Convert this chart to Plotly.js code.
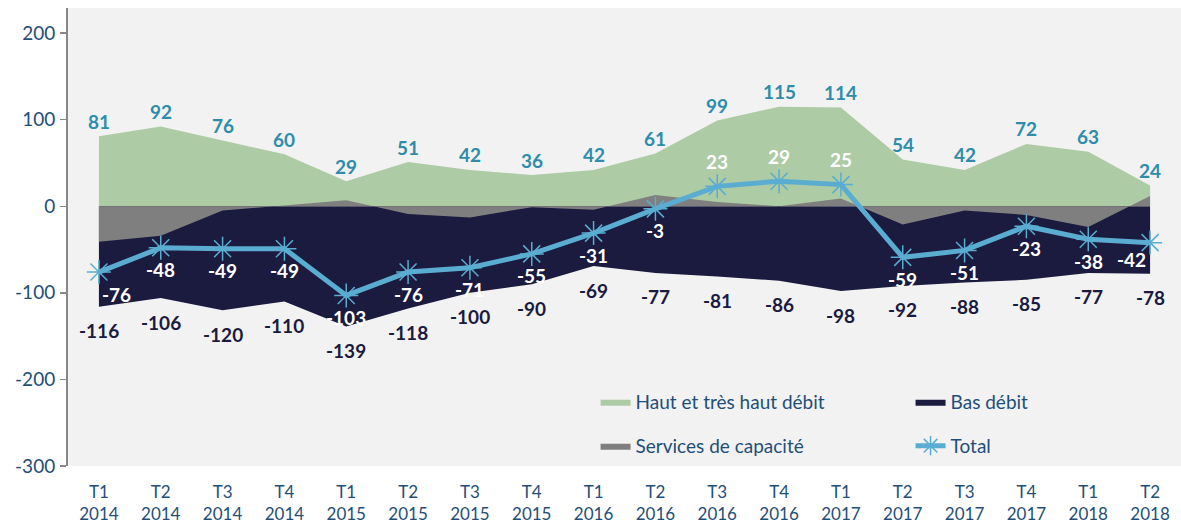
<!DOCTYPE html>
<html><head><meta charset="utf-8">
<script src="https://cdn.plot.ly/plotly-3.0.1.min.js"></script>
<style>html,body{margin:0;padding:0;background:#fff}#chart{width:1181px;height:529px}</style>
</head><body><div id="chart"></div>
<script>
const quarters = ['T1','T2','T3','T4','T1','T2','T3','T4','T1','T2','T3','T4','T1','T2','T3','T4','T1','T2'];
const years = ['2014','2014','2014','2014','2015','2015','2015','2015','2016','2016','2016','2016','2017','2017','2017','2017','2018','2018'];
const hautDebit = [81,92,76,60,29,51,42,36,42,61,99,115,114,54,42,72,63,24];
const basDebit = [-116,-106,-120,-110,-139,-118,-100,-90,-69,-77,-81,-86,-98,-92,-88,-85,-77,-78];
const servicesCapacite = [-41,-34,-5,1,7,-9,-13,-1,-4,13,5,0,9,-21,-5,-10,-24,12];
const total = [-76,-48,-49,-49,-103,-76,-71,-55,-31,-3,23,29,25,-59,-51,-23,-38,-42];
const yTicks = [-300,-200,-100,0,100,200];

const idx = quarters.map((_, i) => i);
const tickText = quarters.map((q, i) => q + '<br>' + years[i]);
const last = idx.length - 1;

const FONT = 'Lato, "Open Sans", sans-serif';
const AXIS_BLUE = '#1f4e79';
const GREEN = '#adcba4';
const NAVY = '#1b1a3f';
const GREY = '#7f7f7f';
const LINEBLUE = '#5aadd0';
const LABEL_TEAL = '#2e8dab';

const traces = [
  {x: idx, y: hautDebit, name: 'Haut et très haut débit', type: 'scatter', mode: 'lines',
   fill: 'tozeroy', fillcolor: GREEN, line: {width: 0, color: GREEN}, legend: 'legend', hoverinfo: 'skip'},
  {x: idx, y: basDebit, name: 'Bas débit', type: 'scatter', mode: 'lines',
   fill: 'tozeroy', fillcolor: NAVY, line: {width: 0, color: NAVY}, legend: 'legend', hoverinfo: 'skip'},
  {x: idx, y: servicesCapacite, name: 'Services de capacité', type: 'scatter', mode: 'lines',
   fill: 'tozeroy', fillcolor: GREY, line: {width: 0, color: GREY}, legend: 'legend2', hoverinfo: 'skip'},
  {x: idx, y: total, name: 'Total', type: 'scatter', mode: 'lines+markers',
   line: {width: 5, color: LINEBLUE},
   marker: {symbol: 'asterisk-open', size: 20, color: LINEBLUE, line: {width: 1.5, color: LINEBLUE}},
   legend: 'legend2', hoverinfo: 'skip'}
];

const annotations = [];
const lblFont = (c) => ({family: FONT, size: 19, color: c});
idx.forEach(i => {
  annotations.push({x: i, y: hautDebit[i], text: '<b>' + hautDebit[i] + '</b>', showarrow: false,
    yshift: 15, font: lblFont(LABEL_TEAL)});
  annotations.push({x: i, y: basDebit[i], text: '<b>' + basDebit[i] + '</b>', showarrow: false,
    yshift: -24, font: lblFont(NAVY)});
  let ys = total[i] >= 0 ? 25 : -22, xs = 0;
  if (i === 0) { xs = 18; }
  if (i === last) { xs = -19; ys = -17; }
  annotations.push({x: i, y: total[i], text: '<b>' + total[i] + '</b>', showarrow: false,
    yshift: ys, xshift: xs, font: lblFont('#ffffff')});
});

const layout = {
  width: 1181, height: 529,
  margin: {l: 68, r: 0, t: 8, b: 63, autoexpand: false},
  paper_bgcolor: '#ffffff',
  plot_bgcolor: '#f2f2f2',
  font: {family: FONT, color: AXIS_BLUE, size: 17},
  showlegend: true,
  xaxis: {
    range: [-0.5, 17.5], tickvals: idx, ticktext: tickText,
    showgrid: false, zeroline: false, showline: false, ticks: '',
    ticklabelstandoff: 14,
    tickfont: {family: FONT, size: 17, color: AXIS_BLUE}, fixedrange: true
  },
  yaxis: {
    range: [-300, 229], tickvals: yTicks, ticktext: yTicks.map(String),
    showgrid: false, zeroline: false, showline: true, linecolor: '#888888', linewidth: 2,
    ticks: 'outside', ticklen: 6, tickcolor: '#888888', tickwidth: 1.5,
    ticklabelstandoff: 1,
    tickfont: {family: FONT, size: 19, color: AXIS_BLUE}, fixedrange: true
  },
  legend: {
    orientation: 'h', x: 0.474, xanchor: 'left', y: 0.14, yanchor: 'middle',
    entrywidth: 270, entrywidthmode: 'pixels', bgcolor: 'rgba(0,0,0,0)',
    font: {family: FONT, size: 19, color: AXIS_BLUE}, traceorder: 'normal'
  },
  legend2: {
    orientation: 'h', x: 0.474, xanchor: 'left', y: 0.044, yanchor: 'middle',
    entrywidth: 270, entrywidthmode: 'pixels', bgcolor: 'rgba(0,0,0,0)',
    font: {family: FONT, size: 19, color: AXIS_BLUE}, traceorder: 'normal'
  },
  annotations: annotations
};

Plotly.newPlot('chart', traces, layout, {displayModeBar: false, staticPlot: true});
</script>
</body></html>
